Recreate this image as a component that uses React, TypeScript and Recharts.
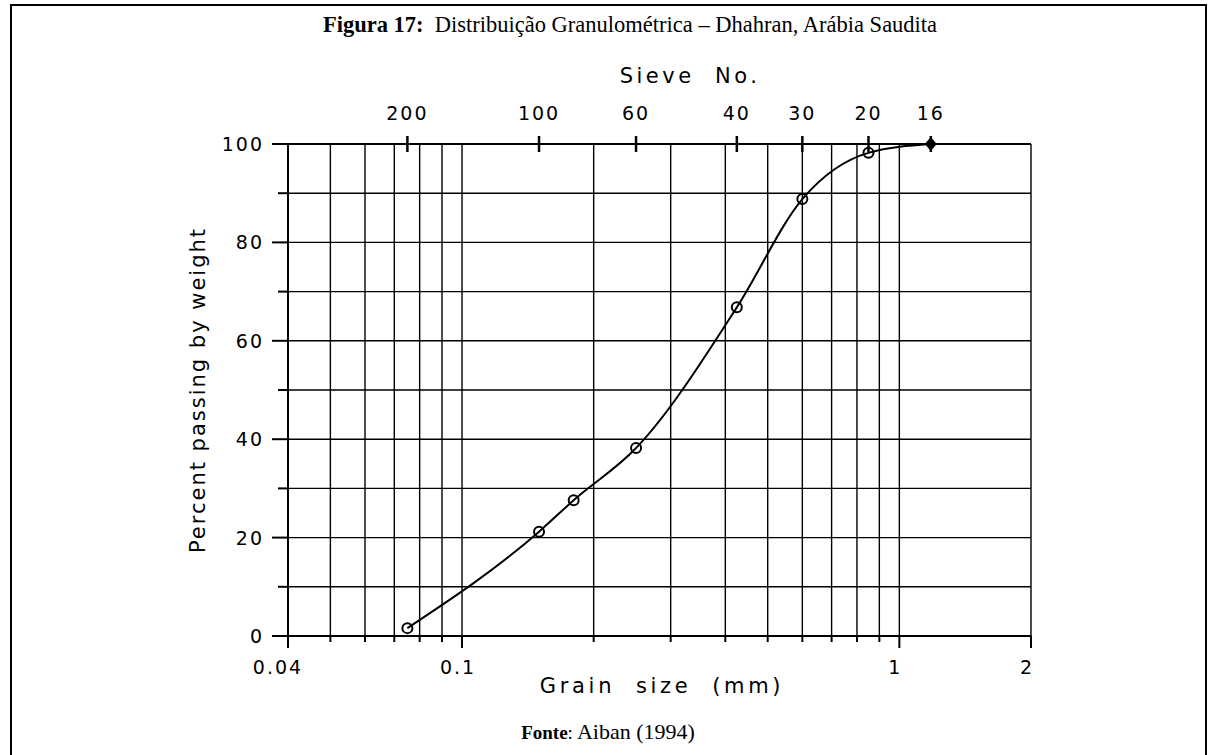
import React from 'react'
import { LineChart, Line, XAxis, YAxis, CartesianGrid } from 'recharts'

// grain size (mm) and percent passing
const grainSize = [0.075, 0.15, 0.18, 0.25, 0.425, 0.6, 0.85, 1.18]
const percentPassing = [1.6, 21.2, 27.6, 38.2, 66.8, 88.8, 98.2, 100]

// sieve numbers on the top axis, with their opening in mm
const sieveNo = ['200', '100', '60', '40', '30', '20', '16']
const sieveOpening = [0.075, 0.15, 0.25, 0.425, 0.6, 0.85, 1.18]

const gridX = [0.04, 0.05, 0.06, 0.07, 0.08, 0.09, 0.1, 0.2, 0.3, 0.4, 0.5, 0.6, 0.7, 0.8, 0.9, 1, 2]
const labelX: Record<string, string> = { '0.04': '0.04', '0.1': '0.1', '1': '1', '2': '2' }
const gridY = [0, 10, 20, 30, 40, 50, 60, 70, 80, 90, 100]
const minorY = [5, 15, 25, 35, 45, 55, 65, 75, 85, 95]

const data = grainSize.map((size, i) => ({ size, pass: percentPassing[i] }))

const plotFont = '"DejaVu Sans", sans-serif'

const BottomTick = (props: any) => {
  const { x, y, payload } = props
  const label = labelX[String(payload.value)]
  return (
    <g>
      <line x1={x} y1={y} x2={x} y2={y + (label ? 12 : 6)} stroke="#000" strokeWidth={2} />
      {label && (
        <text x={x - (label === '0.04' ? 10 : 4)} y={y + 38} textAnchor="middle" fontSize={19} letterSpacing={2} fontFamily={plotFont} fill="#000">
          {label}
        </text>
      )}
    </g>
  )
}

const TopTick = (props: any) => {
  const { x, y, index } = props
  return (
    <g>
      <line x1={x} y1={y - 8} x2={x} y2={y + 8} stroke="#000" strokeWidth={2.5} />
      <text x={x} y={y - 24} textAnchor="middle" fontSize={19} letterSpacing={2} fontFamily={plotFont} fill="#000">
        {sieveNo[index]}
      </text>
    </g>
  )
}

const LeftTick = (props: any) => {
  const { x, y, payload } = props
  const major = payload.value % 20 === 0
  return (
    <g>
      <line x1={x - (major ? 16 : 10)} y1={y} x2={x} y2={y} stroke="#000" strokeWidth={2} />
      {major && (
        <text x={x - 24} y={y + 7} textAnchor="end" fontSize={19} letterSpacing={2} fontFamily={plotFont} fill="#000">
          {payload.value}
        </text>
      )}
    </g>
  )
}

const MinorTick = (props: any) => {
  const { x, y } = props
  return <line x1={x - 10} y1={y} x2={x} y2={y} stroke="#000" strokeWidth={2} />
}

const PointDot = (props: any) => {
  const { cx, cy, index } = props
  if (index === grainSize.length - 1) {
    return (
      <path key={index} d={`M${cx},${cy - 7}L${cx + 6},${cy}L${cx},${cy + 7}L${cx - 6},${cy}Z`} fill="#000" />
    )
  }
  return <circle key={index} cx={cx} cy={cy} r={5} fill="none" stroke="#000" strokeWidth={2} />
}

export default function App() {
  return (
    <div style={{ position: 'absolute', left: 0, top: 0, width: 1216, height: 755, background: '#fff', overflow: 'hidden' }}>
      <div style={{ position: 'absolute', left: 10, top: 4, width: 1193, height: 780, border: '2px solid #000' }} />
      <div
        style={{
          position: 'absolute', left: 30, top: 12, width: 1200, textAlign: 'center',
          fontFamily: '"Liberation Serif", serif', fontSize: 22.5, color: '#000',
        }}
      >
        <b>Figura 17:</b>&nbsp; Distribuição Granulométrica – Dhahran, Arábia Saudita
      </div>
      <div
        style={{
          position: 'absolute', left: 0, top: 719, width: 1216, textAlign: 'center',
          fontFamily: '"Liberation Serif", serif', color: '#000',
        }}
      >
        <b style={{ fontSize: 19 }}>Fonte</b><span style={{ fontSize: 19 }}>:</span>{' '}
        <span style={{ fontSize: 22 }}>Aiban (1994)</span>
      </div>
      <div
        style={{
          position: 'absolute', left: 560, top: 64, width: 260, textAlign: 'center',
          fontFamily: plotFont, fontSize: 21, letterSpacing: 3.5, color: '#000', whiteSpace: 'pre',
        }}
      >
        {'Sieve  No.'}
      </div>
      <div
        style={{
          position: 'absolute', left: 522, top: 674, width: 280, textAlign: 'center',
          fontFamily: plotFont, fontSize: 21, letterSpacing: 3.7, color: '#000', whiteSpace: 'pre',
        }}
      >
        {'Grain  size  (mm)'}
      </div>
      <div
        style={{
          position: 'absolute', left: 198 - 200, top: 392 - 14, width: 400, textAlign: 'center',
          fontFamily: plotFont, fontSize: 21, letterSpacing: 2, color: '#000', whiteSpace: 'pre',
          transform: 'rotate(-90deg)',
        }}
      >
        {'Percent passing by weight'}
      </div>

      <div style={{ position: 'absolute', left: 0, top: 0 }}>
        <LineChart width={1216} height={755} data={data} margin={{ top: 114, right: 185, bottom: 89, left: 228 }}>
          <CartesianGrid xAxisId="bottom" yAxisId="left" stroke="#000" strokeWidth={1.4} strokeOpacity={1} />
          <XAxis
            xAxisId="bottom"
            dataKey="size"
            type="number"
            scale="log"
            domain={[0.04, 2]}
            allowDataOverflow
            ticks={gridX}
            interval={0}
            height={30}
            tickSize={0}
            tickMargin={0}
            tickLine={false}
            tick={<BottomTick />}
            axisLine={{ stroke: '#000', strokeWidth: 2 }}
          />
          <XAxis
            xAxisId="top"
            orientation="top"
            dataKey="size"
            type="number"
            scale="log"
            domain={[0.04, 2]}
            allowDataOverflow
            ticks={sieveOpening}
            interval={0}
            height={30}
            tickSize={0}
            tickMargin={0}
            tickLine={false}
            tick={<TopTick />}
            axisLine={{ stroke: '#000', strokeWidth: 2 }}
          />
          <YAxis
            yAxisId="left"
            type="number"
            domain={[0, 100]}
            ticks={gridY}
            interval={0}
            width={60}
            tickSize={0}
            tickMargin={0}
            tickLine={false}
            tick={<LeftTick />}
            axisLine={{ stroke: '#000', strokeWidth: 2 }}
          />
          <YAxis
            yAxisId="minor"
            type="number"
            domain={[0, 100]}
            ticks={minorY}
            interval={0}
            width={0}
            tickSize={0}
            tickMargin={0}
            tickLine={false}
            tick={<MinorTick />}
            axisLine={false}
          />
          <Line
            xAxisId="bottom"
            yAxisId="left"
            dataKey="pass"
            type="monotone"
            stroke="#000"
            strokeWidth={2}
            dot={PointDot}
            activeDot={false}
            isAnimationActive={false}
          />
        </LineChart>
      </div>
    </div>
  )
}
